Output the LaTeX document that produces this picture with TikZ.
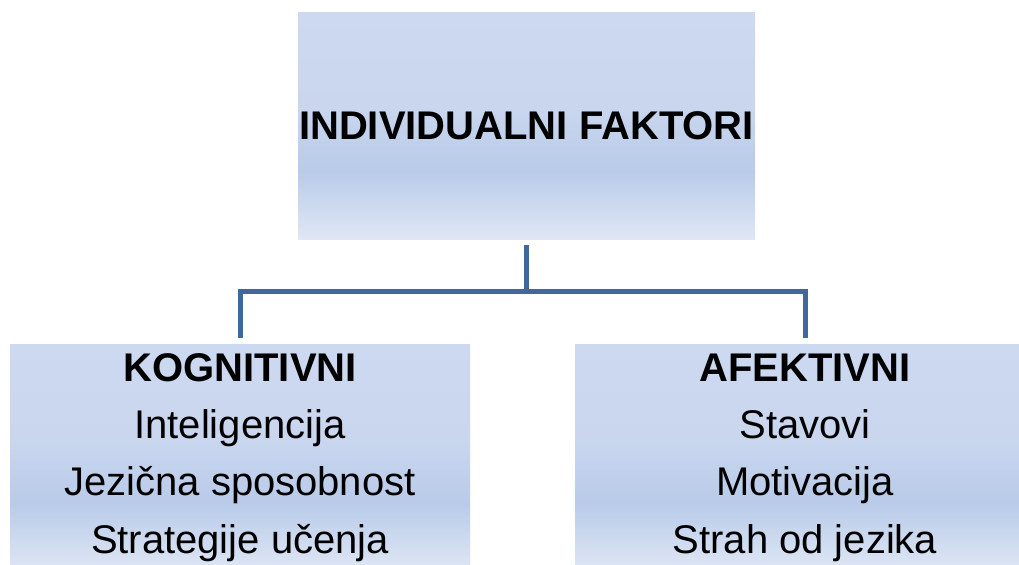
\documentclass[tikz,border=0pt]{standalone}
\usepackage{fontspec}
\setmainfont{Liberation Sans}

\definecolor{boxtop}{HTML}{CDD9F0}
\definecolor{boxup}{HTML}{C9D6EE}
\definecolor{boxmid}{HTML}{B9CBE9}
\definecolor{boxbot}{HTML}{DFE7F5}
\definecolor{linkblue}{HTML}{41689B}
\pgfdeclareverticalshading{boxfill}{100bp}{color(0bp)=(boxbot); color(25bp)=(boxbot);
	color(40bp)=(boxmid); color(54bp)=(boxup); color(75bp)=(boxtop); color(100bp)=(boxtop)}

\begin{document}
\begin{tikzpicture}[x=0.75pt, y=-0.75pt]
		\tikzstyle{every node} = [font = \fontsize{30}{43}\selectfont]
		\tikzstyle{factor} = [shading = boxfill, inner sep = 0pt, align = center, minimum height = 170.25pt]
		\tikzstyle{link} = [draw = linkblue, line width = 3.75pt]
			\clip (0,0) rectangle (1019,564);
			\useasboundingbox (0,0) rectangle (1019,564);
			% main box
			\node[factor, minimum width = 342.75pt] (ind) at (526.5,125.5) {\textbf{INDIVIDUALNI FAKTORI}};
			% the two groups
			\node[factor, minimum width = 345pt] (kog) at (240,457.5)
				{\textbf{KOGNITIVNI}\\Inteligencija\\Jezična sposobnost\\Strategije učenja};
			\node[factor, minimum width = 345pt] (afe) at (805,457.5)
				{\textbf{AFEKTIVNI}\\Stavovi\\Motivacija\\Strah od jezika};
			\coordinate (bar) at (526.5,291.5);
			\path[link] ([yshift=-4.5pt]ind.south) -- (ind.south |- bar);
			\path[link] ([yshift=4pt]kog.north) |- (bar) -| ([yshift=4pt]afe.north);
\end{tikzpicture}
\end{document}
